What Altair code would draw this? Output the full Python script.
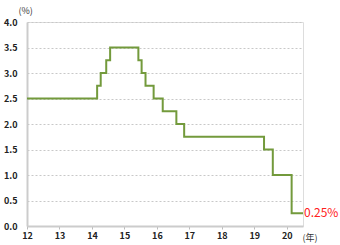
import altair as alt
import pandas as pd

years = [12, 14.16, 14.27, 14.44, 14.56, 15.43, 15.53, 15.65, 15.90, 16.18, 16.6, 16.84, 19.30, 19.57, 20.15, 20.5]
rates = [2.5, 2.75, 3.0, 3.25, 3.5, 3.25, 3.0, 2.75, 2.5, 2.25, 2.0, 1.75, 1.5, 1.0, 0.25, 0.25]
x_ticks = [12, 13, 14, 15, 16, 17, 18, 19, 20]
y_ticks = [0, 0.5, 1.0, 1.5, 2.0, 2.5, 3.0, 3.5, 4.0]

df = pd.DataFrame({"year": years, "rate": rates})
last = pd.DataFrame({"year": [years[-1]], "rate": [rates[-1]], "label": ["0.25%"]})

FONT = "Noto Sans CJK JP"

x = alt.X("year:Q",
          scale=alt.Scale(domain=[12, 20.5], nice=False, zero=False),
          axis=alt.Axis(values=x_ticks, format="d", title="(年)", titleX=275, titleY=11,
                        titleAlign="left", titleBaseline="middle", titleFontSize=9,
                        titleFontWeight="normal", titleColor="#333", titleFont=FONT,
                        labelFont=FONT, labelFontSize=9, labelColor="#222", labelFontWeight="bold",
                        labelOverlap=False, labelFlush=False, labelBound=False,
                        labelPadding=2, domainColor="#cccccc", domainWidth=2, tickColor="#bbbbbb",
                        tickSize=3, grid=False))
y = alt.Y("rate:Q",
          scale=alt.Scale(domain=[0, 4], nice=False),
          axis=alt.Axis(values=y_ticks, format=".1f", title="(%)", titleAngle=0, titleX=-9, titleY=-12,
                        titleAlign="left", titleBaseline="middle", titleFontSize=9,
                        titleFontWeight="normal", titleColor="#333", titleFont=FONT,
                        labelFont=FONT, labelFontSize=9, labelColor="#222", labelFontWeight="bold",
                        labelOverlap=False, labelFlush=False, labelBound=False,
                        labelPadding=10, domainColor="#cccccc", domainWidth=2, ticks=False,
                        grid=True, gridColor="#c8c8c8", gridDash=[2, 2], gridWidth=1))

line = alt.Chart(df).mark_line(interpolate="step-after", color="#739a3c", strokeWidth=2).encode(x=x, y=y)
label = alt.Chart(last).mark_text(align="left", baseline="middle", dx=1, dy=0, color="#ff2020",
                                  fontSize=12, font=FONT).encode(x=x, y=y, text="label:N")

chart = alt.layer(line, label).properties(
    width=276, height=204,
    autosize=alt.AutoSizeParams(type="none"),
    padding={"left": 27, "top": 22, "right": 37, "bottom": 19},
).configure_view(stroke=None).configure(background="white")

chart.save("out.html", embed_options={"renderer": "svg", "actions": False})
